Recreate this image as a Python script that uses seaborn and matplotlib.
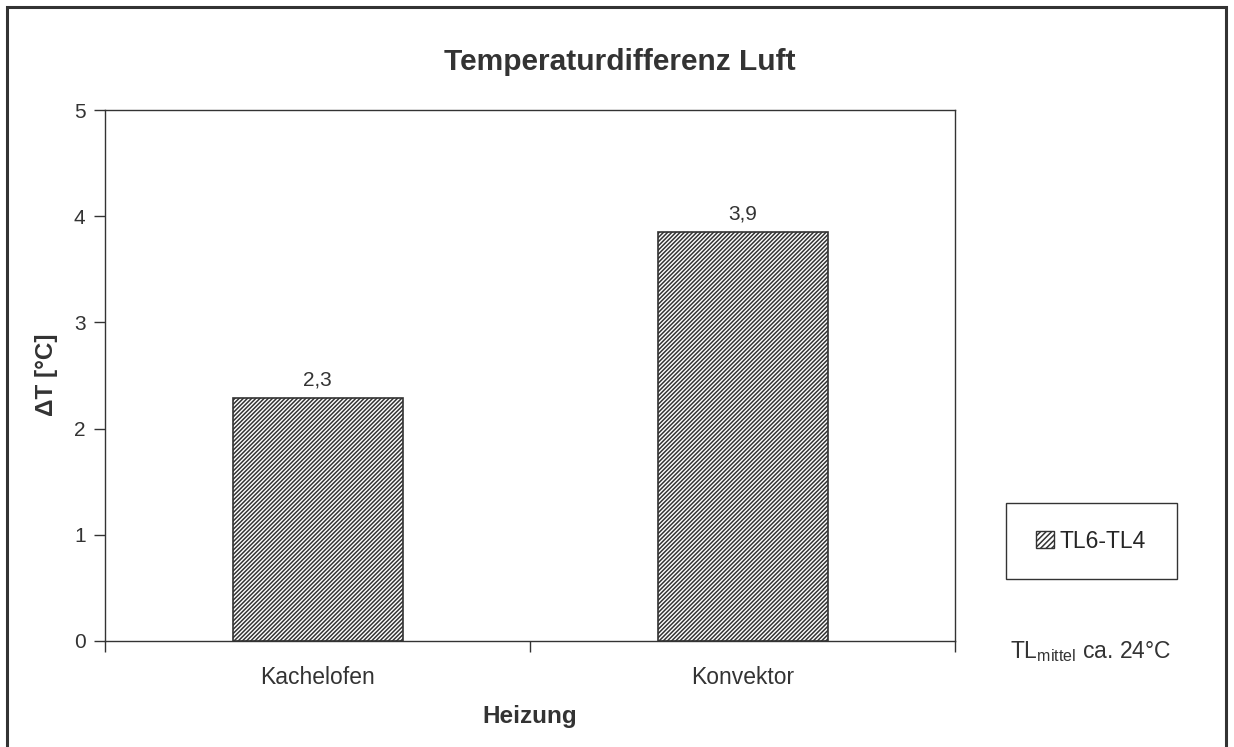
import matplotlib
matplotlib.use("Agg")
import matplotlib.pyplot as plt
import seaborn as sns
from matplotlib.patches import Rectangle, Patch
from matplotlib.ticker import FixedLocator

# === Data ===
categories = ["Kachelofen", "Konvektor"]
values = [2.29, 3.85]
series_name = "TL6-TL4"

sns.set_style("white")
plt.rcParams["font.family"] = ["Liberation Sans", "DejaVu Sans"]
plt.rcParams["hatch.linewidth"] = 1.1
plt.rcParams["hatch.color"] = "#333333"

W, H = 1234, 747
fig = plt.figure(figsize=(W / 100, H / 100), dpi=100)
ax = fig.add_axes([105 / W, 106 / H, 850 / W, 531 / H])

sns.barplot(x=categories, y=values, color="white", width=0.4,
            edgecolor="#333333", linewidth=1.2, ax=ax)
HATCH = "////////"
for bar in ax.patches:
    bar.set_hatch(HATCH)

# value labels
for i, v in enumerate(values):
    ax.text(i, v + 0.08, f"{v:.1f}".replace(".", ","), ha="center", va="bottom",
            fontsize=15, color="#333333")

ax.set_xlim(-0.5, 1.5)
ax.set_ylim(0, 5)
ax.set_yticks([0, 1, 2, 3, 4, 5])
ax.tick_params(axis="y", labelsize=15, labelcolor="#333333", direction="out",
               length=8, width=1, color="#333333", left=True, pad=6)

# category ticks at boundaries, labels in the middle
ax.xaxis.set_major_locator(FixedLocator([-0.5, 0.5, 1.5]))
ax.xaxis.set_minor_locator(FixedLocator([0, 1]))
ax.set_xticklabels(["", "", ""])
ax.set_xticklabels(categories, minor=True)
ax.tick_params(axis="x", which="major", direction="out", length=8, width=1,
               color="#333333", bottom=True)
ax.tick_params(axis="x", which="minor", length=0, labelsize=16.5,
               labelcolor="#333333", pad=18)

for s in ax.spines.values():
    s.set_color("#333333")
    s.set_linewidth(1.0)

ax.set_xlabel("")
ax.set_ylabel("")
fig.text(530 / W, 1 - 717 / H, "Heizung", ha="center", va="center",
         fontsize=17.5, fontweight="bold", color="#333333")
fig.text(47 / W, 1 - 375 / H, "ΔT [°C]", ha="center", va="center", rotation=90,
         fontsize=17.5, fontweight="bold", color="#333333")
fig.text(620 / W, 1 - 62 / H, "Temperaturdifferenz Luft", ha="center",
         va="center", fontsize=21.5, fontweight="bold", color="#333333")

# legend box
fig.patches.append(Rectangle((1006 / W, 1 - 579 / H), 171 / W, 76 / H,
                             transform=fig.transFigure, fill=False,
                             edgecolor="#333333", linewidth=1.0))
handle = Patch(facecolor="white", edgecolor="#333333", hatch="//////")
fig.legend([handle], [series_name], loc="center",
           bbox_to_anchor=(1091 / W, 1 - 541 / H), fontsize=16.5,
           frameon=False, handlelength=0.75, handleheight=0.75,
           handletextpad=0.25, borderaxespad=0)

fig.text(1091 / W, 1 - 652 / H, r"TL$_{\mathregular{mittel}}$ ca. 24°C",
         ha="center", va="center", fontsize=16.5, color="#333333")

# outer frame
fig.patches.append(Rectangle((7 / W, -0.05), 1219 / W, 1.05 - 7 / H,
                             transform=fig.transFigure, fill=False,
                             edgecolor="#333333", linewidth=2.2))

fig.savefig("out.png", dpi=100)
